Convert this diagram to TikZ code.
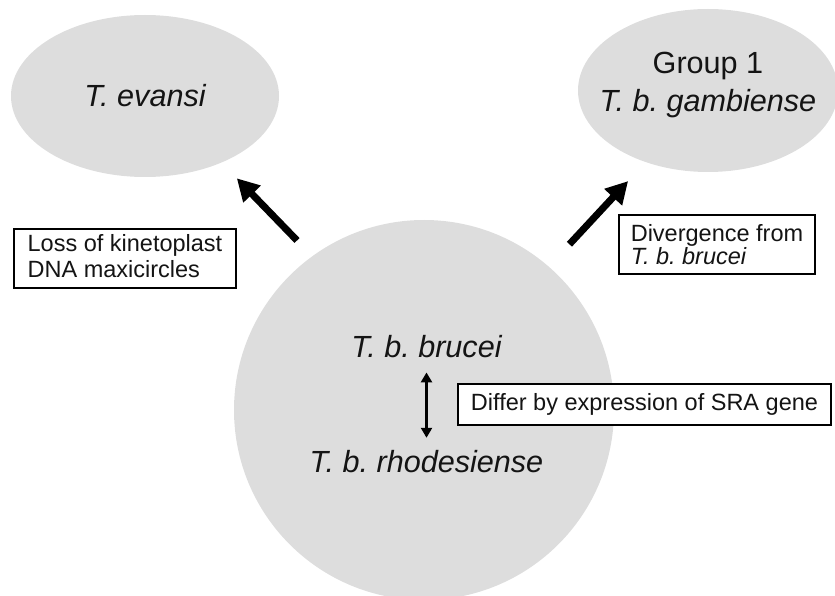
\documentclass[tikz,border=0pt]{standalone}
\usepackage{fontspec}
\setmainfont{Liberation Sans}
\usetikzlibrary{shapes.geometric,arrows.meta}
\definecolor{blobgray}{RGB}{221,221,221}
\definecolor{ink}{RGB}{20,20,20}
\frenchspacing
\begin{document}
\begin{tikzpicture}[x=1pt,y=-1pt,
  blob/.style={ellipse,fill=blobgray,draw=none,inner sep=0pt,outer sep=0pt},
  species/.style={font=\fontsize{30.6}{38}\selectfont\itshape,text=ink,inner sep=0pt},
  notebox/.style={draw=black,line width=1.3pt,fill=white,inner xsep=0pt,inner ysep=0pt,align=left,font=\fontsize{23.5}{26}\selectfont,text=ink},
  bigarr/.style={line width=7pt,-{Triangle[length=22pt,width=23pt]}},
  dblarr/.style={line width=2.7pt,{Triangle[length=10pt,width=11pt]}-{Triangle[length=10pt,width=11pt]}}
]
\useasboundingbox (0,0) rectangle (835,596);
% grey shapes
\node[blob,minimum width=268pt,minimum height=162pt,font=\fontsize{30.6}{38}\selectfont\itshape,text=ink] (evansi) at (145,96) {T. evansi};
\node[blob,minimum width=260pt,minimum height=163pt] (gamb) at (708,90.5) {};
\node[species,align=center] (gambtext) at (708,85) {{\upshape Group 1}\\T. b. gambiense};
\node[circle,fill=blobgray,minimum size=380pt,inner sep=0pt,outer sep=0pt] (pool) at (424,410) {};
% inner labels
\node[species] (brucei) at (426.5,347) {T. b. brucei};
\node[species] (rhodes) at (426.5,462) {T. b. rhodesiense};
\draw[dblarr,shorten <=14pt,shorten >=12.8pt] (brucei) -- (rhodes);
% big arrows
\draw[bigarr,shorten <=22pt,shorten >=22pt] (pool.126.8) -- (evansi.-41.7);
\draw[bigarr,shorten <=30.5pt,shorten >=26pt] (pool.49.6) -- (gamb.229.2);
% boxes
\node[notebox,minimum width=222pt,minimum height=59pt] (loss) at (125,258.5) {Loss of kinetoplast\\DNA maxicircles\rule[-6pt]{0pt}{6pt}};
\node[notebox,minimum width=196pt,minimum height=59pt,font=\fontsize{23.5}{21}\selectfont] (diverg) at (717,244.5) {Divergence from\\\textit{T. b. brucei}};
\node[notebox,minimum width=373pt,minimum height=41pt] (differ) at (644.5,404.5) {Differ by expression of SRA gene};
\end{tikzpicture}
\end{document}
